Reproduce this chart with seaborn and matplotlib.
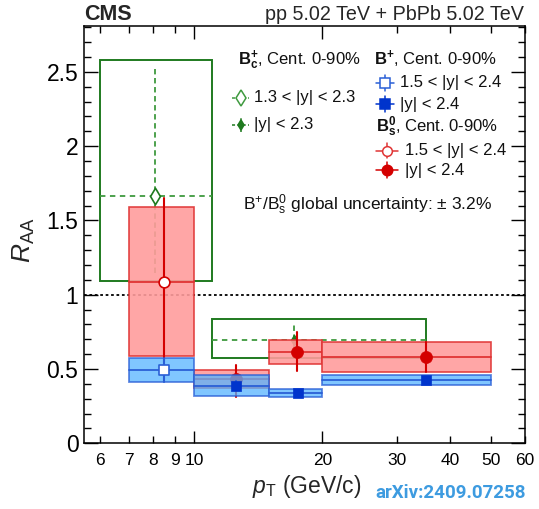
import numpy as np
import pandas as pd
import matplotlib
matplotlib.use("Agg")
import matplotlib.pyplot as plt
import seaborn as sns
from matplotlib.patches import Rectangle
from matplotlib.ticker import FixedLocator, FixedFormatter, NullFormatter, MultipleLocator

# ---------------- data ----------------
# B_c+ (Cent. 0-90%)
bc_lo = [6, 11]
bc_hi = [11, 35]
bc_pt = [8.06, 17.2]
bc_raa = [1.666, 0.695]
bc_stat_up = [0.851, 0.123]
bc_stat_dn = [0.522, 0.12]
bc_sys_up = [0.914, 0.141]
bc_sys_dn = [0.574, 0.119]
bc_rap = ["1.3 < |y| < 2.3", "|y| < 2.3"]

# B+ (Cent. 0-90%)
bp_lo = [7, 10, 15, 20]
bp_hi = [10, 15, 20, 50]
bp_pt = [8.5, 12.5, 17.5, 35]
bp_raa = [0.491, 0.388, 0.340, 0.426]
bp_stat = [0.078, 0.03, 0.015, 0.02]
bp_sys = [0.080, 0.073, 0.026, 0.034]
bp_rap = ["1.5 < |y| < 2.4", "|y| < 2.4", "|y| < 2.4", "|y| < 2.4"]

# Bs0 (Cent. 0-90%)
bs_lo = [7, 10, 15, 20]
bs_hi = [10, 15, 20, 50]
bs_pt = [8.5, 12.5, 17.4, 35]
bs_raa = [1.088, 0.433, 0.616, 0.581]
bs_stat_up = [0.565, 0.094, 0.135, 0.10]
bs_stat_dn = [0.54, 0.119, 0.129, 0.10]
bs_sys = [0.50, 0.06, 0.079, 0.10]
bs_rap = ["1.5 < |y| < 2.4", "|y| < 2.4", "|y| < 2.4", "|y| < 2.4"]

xticks = [6, 7, 8, 9, 10, 20, 30, 40, 50, 60]
yticks = [0, 0.5, 1, 1.5, 2, 2.5]

bc = pd.DataFrame(dict(lo=bc_lo, hi=bc_hi, pt=bc_pt, raa=bc_raa, su=bc_stat_up, sd=bc_stat_dn,
                       yu=bc_sys_up, yd=bc_sys_dn, rap=bc_rap))
bp = pd.DataFrame(dict(lo=bp_lo, hi=bp_hi, pt=bp_pt, raa=bp_raa, st=bp_stat, sy=bp_sys, rap=bp_rap))
bs = pd.DataFrame(dict(lo=bs_lo, hi=bs_hi, pt=bs_pt, raa=bs_raa, su=bs_stat_up, sd=bs_stat_dn,
                       sy=bs_sys, rap=bs_rap))

# ---------------- style ----------------
sns.set_theme(style="ticks")
plt.rcParams["font.family"] = ["Liberation Sans", "DejaVu Sans"]
plt.rcParams["mathtext.fontset"] = "custom"
plt.rcParams["mathtext.rm"] = "Liberation Sans"
plt.rcParams["mathtext.it"] = "Liberation Sans:italic"
plt.rcParams["mathtext.bf"] = "Liberation Sans:bold"

GREEN_BOX = "#1f7a1f"
GREEN_LN = "#3f9a3f"
RED_FILL = "#ff9c9c"
RED_EDGE = "#e03434"
RED_MK = "#d40000"
BLUE_FILL = "#55b4ff"
BLUE_EDGE = "#2a5fd6"
BLUE_MK = "#0034cc"

W, H = 539, 509
fig = plt.figure(figsize=(W / 100, H / 100), dpi=100)
ax = fig.add_axes([84 / W, (H - 443.3) / H, 441 / W, 417.5 / H])
ax.set_xscale("log")
ax.set_xlim(5.5, 60)
ax.set_ylim(0, 2.81)

# reference line
ax.axhline(1.0, color="black", ls=(0, (1.5, 1.5)), lw=1.3, zorder=1)

# ---------------- B_c ----------------
for _, r in bc.iterrows():
    ax.add_patch(Rectangle((r.lo, r.raa - r.yd), r.hi - r.lo, r.yu + r.yd, fill=False,
                           ec=GREEN_BOX, lw=1.4, zorder=2))
    ax.plot([r.lo, r.hi], [r.raa, r.raa], color=GREEN_LN, ls=(0, (3, 2.5)), lw=1.3, zorder=2)
    ax.plot([r.pt, r.pt], [r.raa - r.sd, r.raa + r.su], color=GREEN_LN, ls=(0, (3, 2)), lw=1.3, zorder=2)
open_bc = bc[bc.rap != "|y| < 2.3"]
full_bc = bc[bc.rap == "|y| < 2.3"]
sns.scatterplot(data=open_bc, x="pt", y="raa", marker="d", s=70, facecolor="white",
                edgecolor=GREEN_BOX, linewidth=1.2, ax=ax, zorder=3, legend=False)
sns.scatterplot(data=full_bc, x="pt", y="raa", marker="d", s=30, color=GREEN_BOX,
                edgecolor=GREEN_BOX, linewidth=0.8, ax=ax, zorder=3, legend=False)

# ---------------- Bs ----------------
for _, r in bs.iterrows():
    ax.add_patch(Rectangle((r.lo, r.raa - r.sy), r.hi - r.lo, 2 * r.sy, fc=RED_FILL,
                           ec=RED_EDGE, lw=1.2, alpha=0.9, zorder=4))
    ax.plot([r.lo, r.hi], [r.raa, r.raa], color=RED_EDGE, lw=1.3, zorder=4)
    ax.plot([r.pt, r.pt], [r.raa - r.sd, r.raa + r.su], color=RED_MK, lw=1.5, zorder=5)
open_bs = bs[bs.rap != "|y| < 2.4"]
full_bs = bs[bs.rap == "|y| < 2.4"]
sns.scatterplot(data=open_bs, x="pt", y="raa", marker="o", s=60, facecolor="white",
                edgecolor=RED_MK, linewidth=1.2, ax=ax, zorder=6, legend=False)
sns.scatterplot(data=full_bs, x="pt", y="raa", marker="o", s=75, color=RED_MK,
                edgecolor=RED_MK, linewidth=0.5, ax=ax, zorder=6, legend=False)

# ---------------- B+ ----------------
for _, r in bp.iterrows():
    ax.add_patch(Rectangle((r.lo, r.raa - r.sy), r.hi - r.lo, 2 * r.sy, fc=BLUE_FILL,
                           ec=BLUE_EDGE, lw=1.3, alpha=0.75, zorder=7))
    ax.plot([r.lo, r.hi], [r.raa, r.raa], color=BLUE_EDGE, lw=1.3, zorder=7)
    ax.plot([r.pt, r.pt], [r.raa - r.st, r.raa + r.st], color=BLUE_EDGE, lw=1.5, zorder=8)
open_bp = bp[bp.rap != "|y| < 2.4"]
full_bp = bp[bp.rap == "|y| < 2.4"]
sns.scatterplot(data=open_bp, x="pt", y="raa", marker="s", s=55, facecolor="white",
                edgecolor=BLUE_EDGE, linewidth=1.2, ax=ax, zorder=9, legend=False)
sns.scatterplot(data=full_bp, x="pt", y="raa", marker="s", s=60, color=BLUE_MK,
                edgecolor=BLUE_MK, linewidth=0.5, ax=ax, zorder=9, legend=False)

# ---------------- axes / ticks ----------------
ax.set_xlabel("")
ax.set_ylabel("")
for sp in ax.spines.values():
    sp.set_visible(True)
    sp.set_linewidth(1.1)
    sp.set_color("black")
ax.xaxis.set_major_locator(FixedLocator([10, 20]))
ax.xaxis.set_major_formatter(FixedFormatter(["10", "20"]))
minor_x = [t for t in xticks if t not in (10, 20)]
ax.xaxis.set_minor_locator(FixedLocator(minor_x))
ax.xaxis.set_minor_formatter(FixedFormatter([str(t) for t in minor_x]))
ax.yaxis.set_major_locator(FixedLocator(yticks))
ax.yaxis.set_major_formatter(FixedFormatter([f"{t:g}" for t in yticks]))
ax.yaxis.set_minor_locator(MultipleLocator(0.1))
ax.tick_params(axis="both", which="both", direction="in", top=True, right=True, colors="black")
ax.tick_params(axis="x", which="major", length=9, width=1, labelsize=12.5, pad=7)
ax.tick_params(axis="x", which="minor", length=5, width=1, labelsize=12.5, pad=7)
ax.tick_params(axis="y", which="major", length=10, width=1, labelsize=16.5, pad=4)
ax.tick_params(axis="y", which="minor", length=5, width=1)

# ---------------- legend (manual) ----------------
def ax_xy(px, py):
    return (px - 84) / 441, (443.3 - py) / 417.5

def header(px, py, txt):
    x, y = ax_xy(px, py)
    ax.text(x, y, txt, transform=ax.transAxes, fontsize=12, va="center", ha="left", color="#111111")

def entry(px0, px1, pxt, py, color, marker, filled, ls, txt, ms):
    x0, y = ax_xy(px0, py)
    x1, _ = ax_xy(px1, py)
    xt, _ = ax_xy(pxt, py)
    xm = 0.5 * (x0 + x1)
    ax.plot([x0, x1], [y, y], transform=ax.transAxes, color=color, ls=ls, lw=1.1, clip_on=False)
    ax.plot([xm, xm], [y - 0.018, y + 0.018], transform=ax.transAxes, color=color, ls=ls, lw=1.1,
            clip_on=False)
    ax.plot([xm], [y], transform=ax.transAxes, marker=marker, ms=ms, mfc=color if filled else "white",
            mec=color, mew=1.1, clip_on=False, ls="none")
    ax.text(xt, y, txt, transform=ax.transAxes, fontsize=12, va="center", ha="left", color="#111111")

header(238, 60, r"$\mathbf{B_{c}^{+}}$, Cent. 0-90%")
entry(232, 249, 254, 97.5, GREEN_LN, "d", False, (0, (2, 1.5)), bc_rap[0], 8)
entry(232, 249, 254, 124.5, GREEN_BOX, "d", True, (0, (2, 1.5)), bc_rap[1], 5)

header(374, 59, r"$\mathbf{B^{+}}$, Cent. 0-90%")
entry(376, 394, 400, 83, BLUE_EDGE, "s", False, "-", bp_rap[0], 7)
entry(376, 394, 400, 104, BLUE_MK, "s", True, "-", bp_rap[1], 7)

header(376, 126.5, r"$\mathbf{B_{s}^{0}}$, Cent. 0-90%")
entry(376, 398, 405, 150.5, RED_EDGE, "o", False, "-", bs_rap[0], 7)
entry(376, 398, 405, 170, RED_MK, "o", True, "-", bs_rap[1], 7.5)

gx, gy = ax_xy(243, 205)
ax.text(gx, gy, r"B$^{+}$/B$_{\mathrm{s}}^{0}$ global uncertainty: $\pm$ 3.2%", transform=ax.transAxes,
        fontsize=12.5, va="center", ha="left", color="#111111")

# ---------------- figure texts ----------------
fig.text(84 / W, 1 - 14 / H, "CMS", fontsize=15.5, fontweight="bold", ha="left", va="center")
fig.text(524 / W, 1 - 14 / H, "pp 5.02 TeV + PbPb 5.02 TeV", fontsize=14.2, ha="right", va="center")
fig.text(24 / W, 1 - 240 / H, r"$R_{\mathrm{AA}}$", fontsize=19, rotation=90, ha="center", va="center")
fig.text(361 / W, 1 - 486 / H, r"$p_{\mathrm{T}}$ (GeV/c)", fontsize=16.5, ha="right", va="center")
fig.text(526 / W, 1 - 493 / H, "arXiv:2409.07258", fontsize=13.5, fontweight="bold", ha="right",
         va="center", color="#3d9be0", family=["Roboto", "DejaVu Sans"])

fig.savefig("out.png", dpi=100)
